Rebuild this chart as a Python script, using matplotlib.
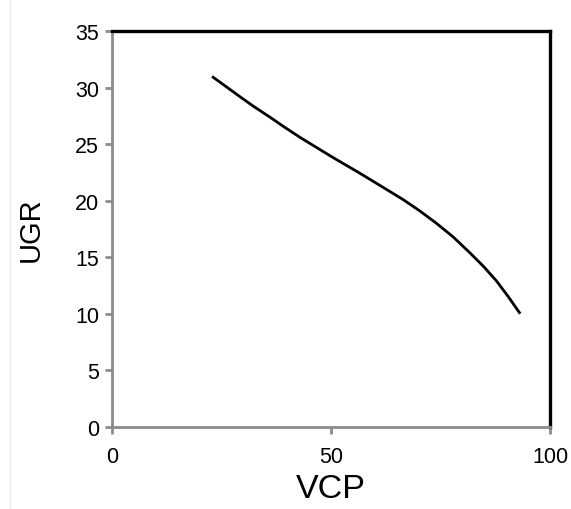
import matplotlib
matplotlib.use('Agg')
import matplotlib.pyplot as plt
from matplotlib.lines import Line2D

# ── Data ──────────────────────────────────────
vcp = [22.9, 25.4, 29.3, 32.2, 36.1, 39.1, 43.0, 46.8, 50.6, 55.9, 58.9,
       62.7, 66.5, 70.3, 74.1, 77.9, 81.7, 84.8, 87.8, 90.5, 93.2]
ugr = [31.0, 30.3, 29.2, 28.4, 27.4, 26.6, 25.6, 24.7, 23.8, 22.6, 21.9,
       21.0, 20.1, 19.1, 18.0, 16.8, 15.4, 14.2, 12.9, 11.5, 10.0]

x_ticks = [0, 50, 100]
y_ticks = [0, 5, 10, 15, 20, 25, 30, 35]

plt.rcParams['font.family'] = ['Liberation Sans', 'DejaVu Sans']

fig = plt.figure(figsize=(5.71, 5.10), dpi=100)
ax = fig.add_axes([0.1956, 0.1614, 0.7676, 0.7753])

ax.plot(vcp, ugr, color='black', linewidth=2.0, solid_capstyle='butt',
        solid_joinstyle='round')

ax.set_xlim(0, 100)
ax.set_ylim(0, 35)
ax.set_xticks(x_ticks)
ax.set_yticks(y_ticks)

# ── Spines: grey left/bottom, black top/right ──
for side in ('left', 'bottom'):
    ax.spines[side].set_color('#8c8c8c')
    ax.spines[side].set_linewidth(2)
for side in ('top', 'right'):
    ax.spines[side].set_color('black')
    ax.spines[side].set_linewidth(2.4)

ax.tick_params(axis='both', direction='out', length=5, width=2,
               color='#8c8c8c', labelcolor='black', labelsize=15.5)
ax.tick_params(axis='x', pad=9)
ax.tick_params(axis='y', pad=4)

ax.set_xlabel('VCP', fontsize=24.5, labelpad=4)
ax.set_ylabel('UGR', fontsize=21, labelpad=22)

# faint border line at the left edge of the image
fig.add_artist(Line2D([10 / 571, 10 / 571], [0, 1], color='#ececec',
                      linewidth=1, transform=fig.transFigure))

fig.savefig('out.png', dpi=100)
